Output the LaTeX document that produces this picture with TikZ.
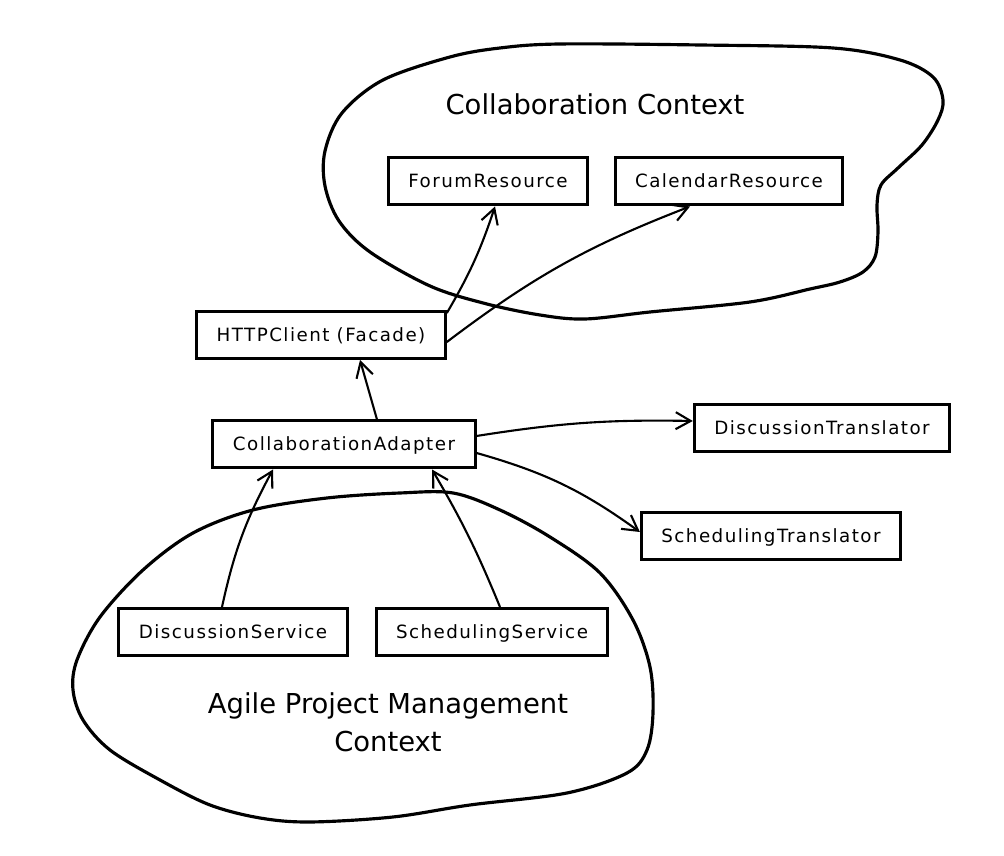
\documentclass[tikz,border=0pt]{standalone}
\usepackage{fontspec}
\setmainfont{DejaVu Sans}
\newfontfamily\boxfont[LetterSpace=8]{DejaVu Sans}
\usetikzlibrary{arrows.meta}

\tikzset{
  box/.style={draw, line width=1.7pt, font=\boxfont\fontsize{10.4}{12}\selectfont,
    minimum height=0.94cm, inner xsep=0.4cm, text height=7.6pt, text depth=0.5pt},
  ctx/.style={line width=1.8pt},
  uses/.style={line width=1.2pt, -{Straight Barb[length=3mm,width=3.4mm]}},
  ctxtitle/.style={font=\fontsize{15.6}{21.5}\selectfont, align=center}
}

\begin{document}
\begin{tikzpicture}
  \useasboundingbox (0,0) rectangle (20.08,17.12);
  % Collaboration Context
  \draw[ctx] plot[smooth cycle, tension=0.55] coordinates {
    (10.0,16.16) (11.2,16.24) (14.0,16.22) (16.66,16.16) (18.0,15.92) (18.66,15.58)
    (18.86,15.12) (18.76,14.72) (18.44,14.22) (17.96,13.76) (17.62,13.42) (17.54,13.02)
    (17.56,12.48) (17.5,11.98) (17.26,11.68) (16.8,11.48) (16.2,11.34) (15.0,11.08)
    (13.0,10.88) (11.7,10.74) (10.8,10.82) (9.7,11.05) (8.6,11.4)
    (7.4,12.08) (6.78,12.7) (6.5,13.4) (6.5,14.1) (6.84,14.86) (7.66,15.52) (9.0,15.98)
  };
  \node[ctxtitle, anchor=base] (collabtitle) at (11.9,14.82) {Collaboration Context};
  \node[box] (forum) at (9.76,13.49) {ForumResource};
  \node[box] (calendar) at (14.58,13.49) {CalendarResource};
  % Agile Project Management Context
  \draw[ctx] plot[smooth cycle, tension=0.55] coordinates {
    (9.06,7.26) (8.0,7.26) (6.54,7.16) (5.06,6.92) (3.86,6.46) (2.86,5.72) (2.0,4.78)
    (1.54,3.92) (1.46,3.32) (1.66,2.72) (2.2,2.12) (3.2,1.52) (4.2,1.02) (5.2,0.76)
    (6.2,0.68) (7.86,0.78) (9.4,1.02) (11.34,1.26) (12.54,1.66) (12.94,2.12) (13.06,2.86)
    (13.0,3.78) (12.66,4.72) (12.0,5.66) (11.0,6.38) (10.0,6.92)
  };
  \node[ctxtitle] (agiletitle) at (7.76,2.67) {Agile Project Management\\Context};
  \node[box] (discsvc) at (4.66,4.48) {DiscussionService};
  \node[box] (schedsvc) at (9.84,4.48) {SchedulingService};
  % between the contexts
  \node[box] (http) at (6.42,10.42) {HTTPClient (Facade)};
  \node[box] (adapter) at (6.88,8.23) {CollaborationAdapter};
  \node[box] (disctr) at (16.44,8.55) {DiscussionTranslator};
  \node[box] (schedtr) at (15.42,6.39) {SchedulingTranslator};

  \draw[uses] ([yshift=-0.06cm]http.north east) to[bend right=6] ([xshift=0.14cm]forum.south);
  \draw[uses] ([yshift=-0.14cm]http.east) to[bend left=8] ([xshift=-0.78cm]calendar.south);
  \draw[uses] ([xshift=0.66cm]adapter.north) -- ([xshift=0.78cm]http.south);
  \draw[uses] ([yshift=0.17cm]adapter.east) to[bend left=5] ([yshift=0.15cm]disctr.west);
  \draw[uses] ([yshift=-0.17cm]adapter.east) to[bend left=10] ([yshift=0.09cm]schedtr.west);
  \draw[uses] ([xshift=-0.22cm]discsvc.north) to[bend left=8] ([xshift=-1.42cm]adapter.south);
  \draw[uses] ([xshift=0.16cm]schedsvc.north) to[bend right=4] ([xshift=1.76cm]adapter.south);
\end{tikzpicture}
\end{document}
